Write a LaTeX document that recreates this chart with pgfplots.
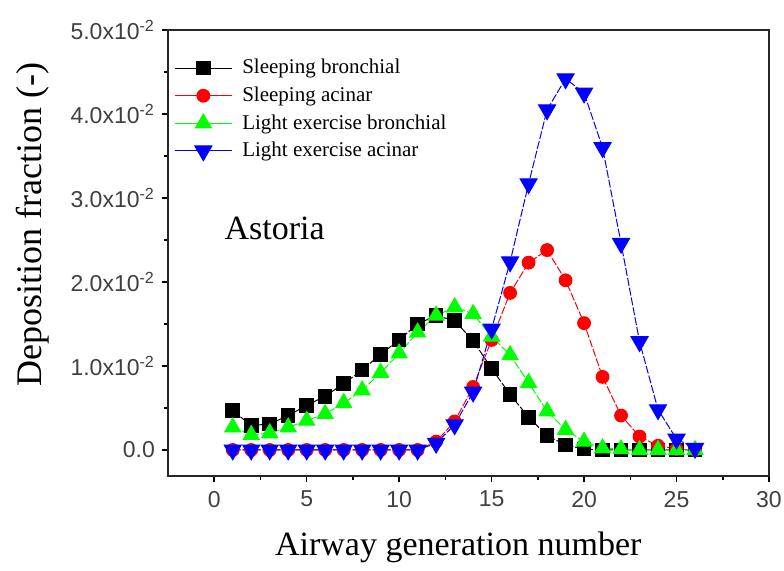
\documentclass[border=0pt]{standalone}
\usepackage{pgfplots}
\pgfplotsset{compat=1.18}
\usepackage{fontspec}
\setmainfont{Liberation Serif}
\setsansfont{Liberation Sans}

% Deposition fraction per airway generation (Astoria)
\pgfplotstableread{
gen  sb      sa      lb      la
1    0.0047  0.0000  0.0027  0.0000
2    0.0029  0.0000  0.0018  0.0000
3    0.0031  0.0000  0.0020  0.0000
4    0.0041  0.0000  0.0027  0.0000
5    0.0053  0.0000  0.0035  0.0000
6    0.0064  0.0000  0.0043  0.0000
7    0.0079  0.0000  0.0056  0.0000
8    0.0095  0.0000  0.0071  0.0000
9    0.0114  0.0000  0.0092  0.0000
10   0.0131  0.0000  0.0115  0.0000
11   0.0150  0.0000  0.0140  0.0000
12   0.0160  0.0010  0.0160  0.0008
13   0.0154  0.0034  0.0170  0.0030
14   0.0130  0.0075  0.0162  0.0069
15   0.0097  0.0131  0.0135  0.0144
16   0.0066  0.0187  0.0113  0.0224
17   0.0039  0.0223  0.0080  0.0317
18   0.0017  0.0238  0.0046  0.0405
19   0.0006  0.0202  0.0024  0.0442
20   0.0001  0.0151  0.0010  0.0425
21   0.0000  0.0087  0.0002  0.0360
22   0.0000  0.0041  0.0001  0.0246
23   0.0000  0.0016  0.0000  0.0129
24   0.0000  0.0005  0.0000  0.0048
25   0.0000  0.0001  0.0000  0.0013
26   0.0000  0.0000  0.0000  0.0002
}\deposition

\begin{document}
\begin{tikzpicture}
\begin{axis}[
  name=ax,
  scale only axis, width=300.5pt, height=223pt,
  xmin=-2.5, xmax=30, ymin=-0.0031, ymax=0.05,
  axis line style={line width=0.8pt, black!85},
  xtick={0,5,...,30}, xticklabels={0,5,10,15,20,25,30},
  ytick={0,0.01,0.02,0.03,0.04,0.05},
  yticklabels={0.0,
    1.0x10\textsuperscript{-2},
    2.0x10\textsuperscript{-2},
    3.0x10\textsuperscript{-2},
    4.0x10\textsuperscript{-2},
    5.0x10\textsuperscript{-2}},
  scaled ticks=false,
  minor x tick num=1, minor y tick num=1,
  tick align=outside, xtick pos=left, ytick pos=left,
  major tick length=3pt, minor tick length=2pt,
  tick style={line width=0.8pt, black},
  ticklabel style={font=\sffamily\fontsize{11.5}{13}\selectfont, text=black!75},
  xticklabel style={yshift=-1pt},
  xlabel={Airway generation number},
  xlabel style={at={(axis description cs:0.483,-0.161)}, anchor=center,
                font=\fontsize{17}{20}\selectfont},
  ylabel={Deposition fraction (-)},
  ylabel style={at={(axis description cs:-0.226,0.563)}, anchor=center,
                font=\fontsize{18}{21}\selectfont},
  legend style={at={(axis description cs:0.010,0.944)}, anchor=north west,
                draw=none, fill=none, font=\fontsize{10.5}{12}\selectfont,
                row sep=1pt, column sep=3pt, inner sep=0pt},
  legend cell align=left,
  legend image code/.code={%
    \draw[mark repeat=2, mark phase=2, #1, solid]
      plot coordinates {(0cm,0cm) (0.5cm,0cm) (1cm,0cm)};},
  every axis plot/.append style={line width=0.5pt, dash pattern=on 4pt off 1pt},
]
\addplot[black, mark=square*, mark size=3.4pt, mark options={solid, fill=black}]
  table[x=gen, y=sb] {\deposition};
\addlegendentry{Sleeping bronchial}
\addplot[red, mark=*, mark size=3.2pt, mark options={solid, fill=red}]
  table[x=gen, y=sa] {\deposition};
\addlegendentry{Sleeping acinar}
\addplot[green, mark=triangle*, mark size=4.6pt, mark options={solid, fill=green}]
  table[x=gen, y=lb] {\deposition};
\addlegendentry{Light exercise bronchial}
\addplot[blue, mark=triangle*, mark size=4.9pt, mark options={solid, fill=blue, rotate=180}]
  table[x=gen, y=la] {\deposition};
\addlegendentry{Light exercise acinar}

\node[anchor=base west, inner sep=0pt, font=\fontsize{17}{20}\selectfont]
  at (axis cs:0.54,0.025) {Astoria};
\end{axis}
\pgfresetboundingbox
\path[use as bounding box] ([xshift=-84pt,yshift=-47pt]ax.south west)
  rectangle ([xshift=7.5pt,yshift=15pt]ax.north east);
\end{tikzpicture}
\end{document}
